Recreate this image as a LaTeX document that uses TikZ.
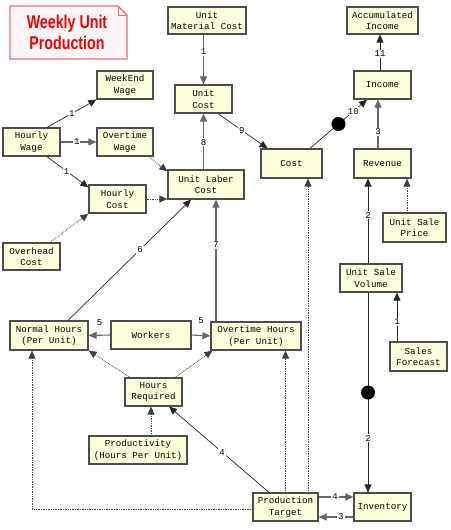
\documentclass[tikz,border=0pt]{standalone}
\usepackage{fontspec}
\setmonofont{Liberation Mono}
\newfontfamily\titlefont{Liberation Sans}
\usetikzlibrary{arrows.meta,calc}
\definecolor{boxfill}{RGB}{255,255,222}
\definecolor{titleborder}{RGB}{240,110,120}
\definecolor{titlefill}{RGB}{255,246,248}
\definecolor{titletext}{RGB}{240,0,0}
\tikzset{
  box/.style={draw=black!70, line width=1.2pt, fill=boxfill,
    font=\ttfamily\fontsize{9.2}{11.5}\selectfont, text=black,
    align=center, inner sep=0pt, minimum height=28pt},
  arr/.style={-{Triangle[length=8pt,width=7pt]}, line width=0.7pt, draw=black!85},
  thk/.style={arr, line width=1.1pt, draw=black!60},
  dotl/.style={arr, densely dotted, line width=0.9pt, draw=black!75},
  lbl/.style={fill=white, inner sep=1pt, font=\ttfamily\fontsize{9}{10}\selectfont, text=black},
  blob/.style={circle, fill=black, inner sep=0pt, minimum size=14pt},
}
\begin{document}
\begin{tikzpicture}[x=1pt,y=-1pt]
\useasboundingbox (0,0) rectangle (450,530);
\fill[white] (0,0) rectangle (450,530);
% title note
\draw[draw=titleborder, line width=1.3pt, fill=titlefill]
  (10,6) -- (118,6) -- (127,15) -- (127,59) -- (10,59) -- cycle;
\draw[draw=titleborder, line width=1pt] (118,6) -- (118,15) -- (127,15);
\node[font=\titlefont\bfseries\fontsize{18.5}{21}\selectfont, text=titletext, align=center, inner sep=0pt]
  (title) at (67,32) {\scalebox{0.77}[1]{Weekly Unit}\\\scalebox{0.77}[1]{Production}};
% boxes
\node[box, minimum width=78pt, minimum height=27pt] (umc) at (207,20.5) {Unit\\Material Cost};
\node[box, minimum width=57pt] (uc) at (203.5,99) {Unit\\Cost};
\node[box, minimum width=56pt] (wew) at (125,85) {WeekEnd\\Wage};
\node[box, minimum width=57pt] (hw) at (31.5,142) {Hourly\\Wage};
\node[box, minimum width=56pt] (ow) at (125,142) {Overtime\\Wage};
\node[box, minimum width=76pt, minimum height=29pt] (ulc) at (206,184.5) {Unit Laber\\Cost};
\node[box, minimum width=57pt] (hc) at (117.5,199) {Hourly\\Cost};
\node[box, minimum width=57pt, minimum height=27pt] (oc) at (31.5,256.5) {Overhead\\Cost};
\node[box, minimum width=78pt, minimum height=29pt] (nh) at (49,335.5) {Normal Hours\\(Per Unit)};
\node[box, minimum width=80pt] (wk) at (151,335) {Workers};
\node[box, minimum width=90pt] (oh) at (256,336) {Overtime Hours\\(Per Unit)};
\node[box, minimum width=57pt] (hr) at (153.5,392) {Hours\\Required};
\node[box, minimum width=98pt] (pr) at (138,450) {Productivity\\(Hours Per Unit)};
\node[box, minimum width=65pt] (pt) at (285.5,507) {Production\\Target};
\node[box, minimum width=57pt] (inv) at (382.5,507) {Inventory};
\node[box, minimum width=61pt, minimum height=29pt] (cost) at (291.5,163.5) {Cost};
\node[box, minimum width=57pt, minimum height=29pt] (rev) at (382.5,163.5) {Revenue};
\node[box, minimum width=57pt] (inc) at (382.5,85) {Income};
\node[box, minimum width=71pt, minimum height=27pt] (ai) at (382.5,20.5) {Accumulated\\Income};
\node[box, minimum width=63pt, minimum height=29pt] (usp) at (414.5,227.5) {Unit Sale\\Price};
\node[box, minimum width=62pt] (usv) at (371,278) {Unit Sale\\Volume};
\node[box, minimum width=57pt, minimum height=29pt] (sf) at (418.5,356.5) {Sales\\Forecast};
% connectors
\draw[thk] (uc.north |- umc.south) -- node[lbl, pos=0.35] {1} (uc.north);
\draw[arr] ([xshift=15.5pt]hw.north) -- node[lbl, pos=0.5] {1} (wew.south west);
\draw[thk] (hw.east) -- node[lbl, pos=0.45] {1} (ow.west);
\draw[arr] ([xshift=15.5pt]hw.south) -- node[lbl, pos=0.47] {1} ([yshift=-3pt]hc.north west);
\draw[dotl] ([xshift=-5pt]ow.south east) -- ([yshift=-2pt]ulc.north west);
\draw[dotl] (hc.east) -- (hc.east -| ulc.west);
\draw[dotl] ([xshift=18.5pt]oc.north) -- (hc.south west);
\draw[arr] ([xshift=19pt]nh.north) -- node[lbl, pos=0.585] {6} ([xshift=-15pt]ulc.south);
\draw[thk] ([xshift=-40pt]oh.north) -- node[lbl, pos=0.63] {7} ([xshift=10pt]ulc.south);
\draw[thk] (uc.south |- ulc.north) -- node[lbl, pos=0.49] {8} (uc.south);
\draw[arr] ([xshift=14.5pt]uc.south) -- node[lbl, pos=0.48] {9} ([xshift=-24pt]cost.north);
\draw[arr] ([xshift=18.5pt]cost.north) -- node[blob, pos=0.5] (b1) {} node[lbl, pos=0.76] {10} ([xshift=-15.5pt]inc.south);
\draw[thk] ([xshift=-4.5pt]rev.north) -- node[lbl, pos=0.34] {3} ([xshift=-4.5pt]inc.south);
\draw[arr] ([xshift=-2.5pt]inc.north) -- node[lbl, pos=0.46] {11} ([xshift=-2.5pt]ai.south);
\draw[dotl] ([xshift=-7.5pt]usp.north) -- ([xshift=24.5pt]rev.south);
\draw[arr, line width=0.9pt] ([xshift=-3pt]usv.north) -- node[lbl, pos=0.57] {2} ([xshift=-14.5pt]rev.south);
\draw[arr] ([xshift=-21.5pt]sf.north) -- node[lbl, pos=0.4] {1} ([xshift=26pt]usv.south);
\draw[arr, line width=0.9pt] ([xshift=-3pt]usv.south) -- node[blob, pos=0.5] (b2) {} node[lbl, pos=0.73] {2} ([xshift=-14.5pt]inv.north);
\draw[thk] ([yshift=10pt]pt.east) -- node[lbl, pos=0.47] {4} ([yshift=10pt]inv.west);
\draw[thk] ([yshift=-10pt]inv.west) -- node[lbl, pos=0.36] {3} ([yshift=-10pt]pt.east);
\draw[dotl] ([xshift=22.5pt]pt.north) -- ([xshift=16.5pt]cost.south);
\draw[dotl] (pt.north) -- ([xshift=29.5pt]oh.south);
\draw[dotl] ([yshift=-2pt]pt.west) -| ([xshift=-17pt]nh.south);
\draw[arr] ([xshift=-16.5pt]pt.north) -- node[lbl, pos=0.47] {4} ([xshift=15.5pt]hr.south);
\draw[dotl] ([xshift=-23.5pt]hr.north) -- (nh.south east);
\draw[dotl] ([xshift=21.5pt]hr.north) -- ([xshift=2pt]oh.south west);
\draw[dotl] ([xshift=13pt]pr.north) -- ([xshift=-2.5pt]hr.south);
\draw[thk] (wk.west) -- node[lbl, fill=none, pos=0.5, yshift=13pt] {5} (nh.east);
\draw[thk] (wk.east) -- node[lbl, fill=none, pos=0.5, yshift=15pt] {5} (oh.west);
\end{tikzpicture}
\end{document}
